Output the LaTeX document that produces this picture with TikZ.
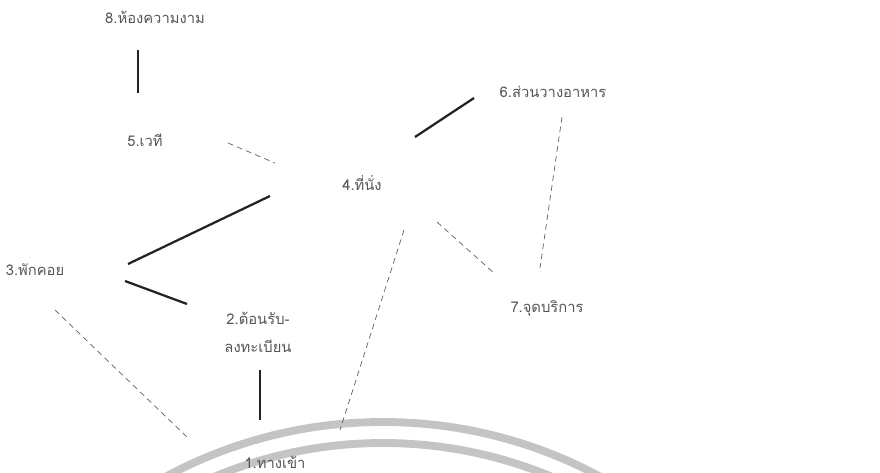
\documentclass[tikz,border=0pt]{standalone}
\usepackage{fontspec}
\usepackage{tikz}
\usetikzlibrary{
    calc,
    positioning
}
\newfontfamily\thaifont[Script=Thai]{Loma}
\definecolor{InkGray}{RGB}{85,85,85}
\definecolor{LineDark}{RGB}{35,35,35}
\definecolor{DashGray}{RGB}{95,95,95}
\definecolor{RingGray}{RGB}{196,196,196}
\tikzset{
  place/.style  = {inner sep=1pt, align=center, text=InkGray,
                   font=\thaifont\fontsize{10.5}{20}\selectfont},
  link/.style   = {LineDark, line width=1.6pt},
  dlink/.style  = {DashGray, line width=0.5pt, dash pattern=on 4pt off 3pt},
  ring/.style   = {RingGray, line width=5.6pt}
}

\begin{document}
\begin{tikzpicture}[x=0.25mm, y=-0.25mm]
\useasboundingbox (0,0) rectangle (880,473);
\clip (0,0) rectangle (880,473);
% entrance arcs
\coordinate (hub) at (383,880);
\draw[ring] (hub) circle[radius=458];
\draw[ring] (hub) circle[radius=437];
% zones
\node[place] (n8) at (155,17)  {8.ห้องความงาม};
\node[place] (n5) at (145,140) {5.เวที};
\node[place] (n4) at (362,183) {4.ที่นั่ง};
\node[place] (n6) at (553,92)  {6.ส่วนวางอาหาร};
\node[place] (n3) at (35,270)  {3.พักคอย};
\node[place] (n2) at (258,332) {2.ต้อนรับ-\\ลงทะเบียน};
\node[place] (n7) at (547,308) {7.จุดบริการ};
\node[place] (n1) at (275,462) {1.ทางเข้า};
% strong relations
\draw[link] ($(n8)+(-17,33)$) -- ($(n5)+(-7,-47)$);
\draw[link] ($(n4)+(53,-46)$) -- ($(n6)+(-79,6)$);
\draw[link] ($(n4)+(-92,13)$) -- ($(n3)+(93,-6)$);
\draw[link] ($(n3)+(90,11)$) -- ($(n2)+(-71,-28)$);
\draw[link] ($(n2)+(2,38)$) -- ($(n1)+(-15,-42)$);
% weak relations
\draw[dlink] ($(n5)+(83,3)$) -- ($(n4)+(-87,-20)$);
\draw[dlink] ($(n6)+(9,25)$) -- ($(n7)+(-7,-40)$);
\draw[dlink] ($(n4)+(75,39)$) -- ($(n7)+(-52,-34)$);
\draw[dlink] ($(n3)+(20,40)$) -- ($(n1)+(-87,-24)$);
\draw[dlink] ($(n4)+(42,47)$) -- ($(n1)+(65,-32)$);
\end{tikzpicture}
\end{document}
